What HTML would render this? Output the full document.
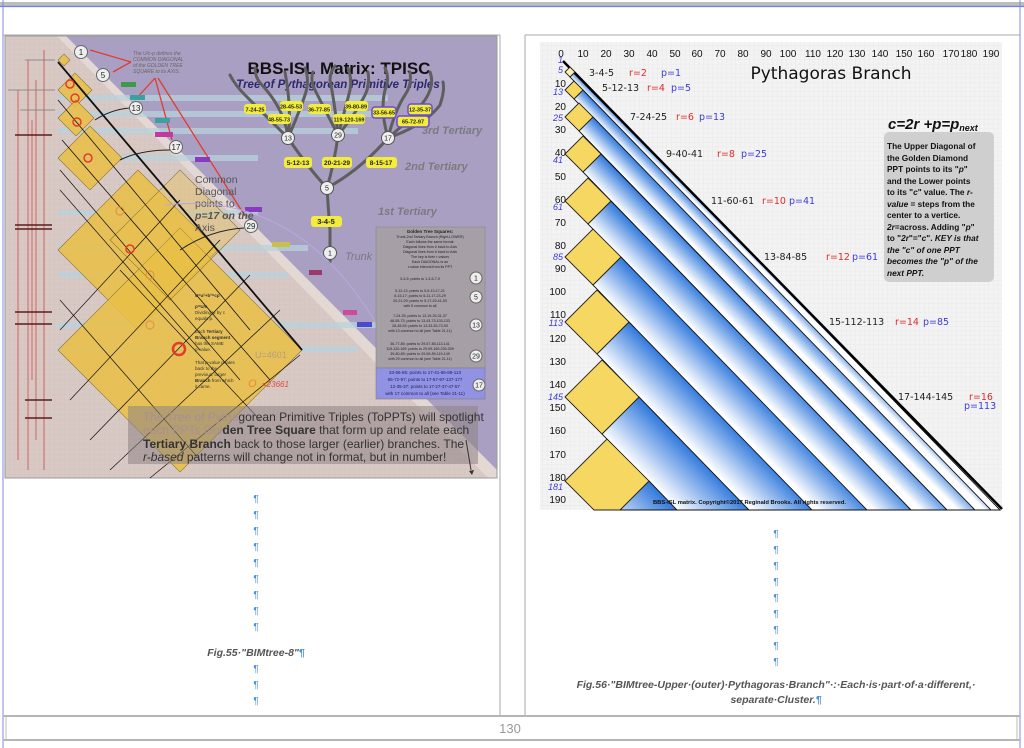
<!DOCTYPE html>
<html><head><meta charset="utf-8"><style>
html,body{margin:0;padding:0;background:#fff;}
body{width:1024px;height:748px;overflow:hidden;position:relative;font-family:"Liberation Sans",sans-serif;}
svg{position:absolute;left:0;top:0;}
</style></head><body>
<svg width="1024" height="748" viewBox="0 0 1024 748" xmlns="http://www.w3.org/2000/svg" font-family="Liberation Sans, sans-serif">
<defs>
<pattern id="grid" width="4.6" height="4.6" patternUnits="userSpaceOnUse">
<path d="M4.6 0V4.6H0" fill="none" stroke="#e2e2e2" stroke-width="0.5"/></pattern>
<pattern id="lgrid" width="5" height="5" patternUnits="userSpaceOnUse">
<path d="M5 0V5H0" fill="none" stroke="#c9b9b6" stroke-width="0.4"/></pattern>
</defs>
<!-- page frame -->
<rect x="0" y="2" width="1024" height="4" fill="#bdbdbd"/>
<line x1="0" y1="6.5" x2="1024" y2="6.5" stroke="#6f7fe0" stroke-width="1.2"/>
<line x1="3" y1="0" x2="3" y2="748" stroke="#7d8be6" stroke-width="1"/>
<line x1="1020" y1="0" x2="1020" y2="748" stroke="#7d8be6" stroke-width="1"/>
<line x1="3" y1="35" x2="500" y2="35" stroke="#aaa" stroke-width="1"/>
<line x1="525" y1="35" x2="1020" y2="35" stroke="#aaa" stroke-width="1"/>
<line x1="500" y1="35" x2="500" y2="716" stroke="#aaa"/>
<line x1="525" y1="35" x2="525" y2="716" stroke="#aaa"/>
<rect x="3" y="715" width="1017" height="2" fill="#b5b5b5"/>
<rect x="3" y="739" width="1017" height="2" fill="#b5b5b5"/>
<line x1="6" y1="717" x2="6" y2="739" stroke="#bbb"/>
<line x1="1017" y1="717" x2="1017" y2="739" stroke="#bbb"/>
<text x="510" y="733" font-size="13" fill="#999" text-anchor="middle">130</text>

<!-- ===== LEFT PANEL ===== -->
<rect x="5" y="36" width="492" height="442" fill="#d9c9c5"/>
<rect x="5" y="36" width="492" height="442" fill="url(#lgrid)"/>
<polygon points="57,36 497,36 497,478 488,478" fill="#e4d8d4"/>
<polygon points="66,36 497,36 497,470" fill="#a99fc2"/>
<rect x="5" y="36" width="492" height="442" fill="none" stroke="#999"/>
<!-- left strip -->
<g stroke="#d24a4a" stroke-width="0.8">
<line x1="18" y1="90" x2="18" y2="460"/><line x1="28" y1="60" x2="28" y2="470"/><line x1="36" y1="80" x2="36" y2="440"/><line x1="44" y1="50" x2="44" y2="470"/><line x1="32" y1="120" x2="32" y2="380"/>
</g>
<g stroke="#5a1d1d" stroke-width="1.5">
<line x1="15" y1="135" x2="52" y2="135"/><line x1="15" y1="225" x2="52" y2="225"/><line x1="15" y1="229" x2="52" y2="229"/><line x1="15" y1="312" x2="52" y2="312"/><line x1="15" y1="324" x2="52" y2="324"/><line x1="25" y1="400" x2="52" y2="400"/><line x1="25" y1="418" x2="52" y2="418"/>
</g>
<g stroke="#777" stroke-width="0.8"><line x1="8" y1="90" x2="55" y2="90"/><line x1="20" y1="110" x2="55" y2="110"/><line x1="25" y1="60" x2="55" y2="60"/></g>
<!-- stripes -->
<g fill="#b8d3dc" opacity="0.75">
<rect x="58" y="95" width="330" height="6"/><rect x="58" y="111" width="320" height="6"/><rect x="58" y="128" width="300" height="6"/>
<rect x="58" y="155" width="200" height="6"/><rect x="58" y="245" width="250" height="6"/><rect x="58" y="272" width="230" height="6"/>
<rect x="58" y="322" width="340" height="6"/><rect x="58" y="346" width="300" height="6"/><rect x="58" y="210" width="200" height="5"/>
</g>
<!-- diamonds -->
<g fill="#e8bf48" fill-opacity="0.88" stroke="#8a7430" stroke-width="0.6">
<polygon points="58,60 64,54 70,60 64,66"/>
<polygon points="58,90 75,73 92,90 75,107"/>
<polygon points="58,118 76,100 94,118 76,136"/>
<polygon points="58,158 90,126 122,158 90,190"/>
<polygon points="58,250 138,170 218,250 138,330"/>
<polygon points="58,350 180,228 302,350 180,472"/>
<polygon points="110,240 180,170 240,230 170,300" fill-opacity="0.35"/>
</g>
<!-- black diagonals -->
<g stroke="#111" fill="none">
<line x1="58" y1="62" x2="302" y2="350" stroke-width="1.8"/>
<line x1="58" y1="100" x2="250" y2="330" stroke-width="0.8"/>
<line x1="62" y1="140" x2="270" y2="380" stroke-width="0.8"/>
<line x1="60" y1="170" x2="240" y2="380" stroke-width="0.7"/>
<line x1="60" y1="190" x2="200" y2="350" stroke-width="0.7"/>
<line x1="120" y1="270" x2="260" y2="420" stroke-width="0.7"/>
<line x1="60" y1="300" x2="200" y2="460" stroke-width="0.7"/>
<line x1="180" y1="200" x2="60" y2="330" stroke-width="0.7"/>
<line x1="220" y1="240" x2="70" y2="400" stroke-width="0.7"/>
<line x1="250" y1="275" x2="90" y2="440" stroke-width="0.7"/>
<line x1="280" y1="310" x2="110" y2="470" stroke-width="0.7"/>
<line x1="300" y1="355" x2="150" y2="478" stroke-width="0.7"/>
</g>
<!-- red circles -->
<g fill="none" stroke="#e23b2e" stroke-width="1.5">
<circle cx="70" cy="84" r="4"/><circle cx="75" cy="98" r="4"/><circle cx="77" cy="122" r="4"/><circle cx="88" cy="158" r="4"/><circle cx="130" cy="249" r="4"/><circle cx="179" cy="349" r="6" stroke-width="2.5"/>
</g>
<g fill="none" stroke="#e58a3a" stroke-width="1.2" opacity="0.8"><circle cx="120" cy="211" r="4"/><circle cx="150" cy="275" r="4"/><circle cx="150" cy="325" r="4"/></g>
<!-- red arrows -->
<g stroke="#e23b2e" stroke-width="1.3" fill="none">
<line x1="131" y1="62" x2="90" y2="50"/><line x1="131" y1="62" x2="113" y2="72"/>
<line x1="155" y1="78" x2="172" y2="140"/><line x1="158" y1="78" x2="245" y2="216"/><line x1="155" y1="78" x2="135" y2="100"/>
</g>
<text x="133" y="55" font-size="5" fill="#666" font-style="italic">The U/c-p defines the</text>
<text x="133" y="61" font-size="5" fill="#666" font-style="italic">COMMON DIAGONAL</text>
<text x="133" y="67" font-size="5" fill="#666" font-style="italic">of the GOLDEN TREE</text>
<text x="133" y="73" font-size="5" fill="#666" font-style="italic">SQUARE to its AXIS.</text>
<!-- number circles -->
<g font-size="8" text-anchor="middle" fill="#222">
<circle cx="81" cy="52" r="6.5" fill="#eee" stroke="#666"/><text x="81" y="55">1</text>
<circle cx="103" cy="75" r="6.5" fill="#eee" stroke="#666"/><text x="103" y="78">5</text>
<circle cx="136" cy="108" r="6.5" fill="#eee" stroke="#666"/><text x="136" y="111">13</text>
<circle cx="176" cy="147" r="6.5" fill="#eee" stroke="#666"/><text x="176" y="150">17</text>
<circle cx="251" cy="226" r="6.5" fill="#eee" stroke="#666"/><text x="251" y="229">29</text>
</g>
<g stroke="#222" fill="none" stroke-width="1"><path d="M129 108 Q110 110 95 120"/><path d="M170 150 Q140 150 120 160"/><path d="M244 228 Q210 230 180 250"/></g>
<!-- small colored tags -->
<g><rect x="121" y="82" width="15" height="5" fill="#3c9a4a"/><rect x="130" y="95" width="15" height="5" fill="#3aa0a0"/><rect x="155" y="118" width="15" height="5" fill="#3aa0a0"/><rect x="155" y="132" width="18" height="5" fill="#c03aa0"/><rect x="195" y="157" width="15" height="5" fill="#8a3ac0"/><rect x="245" y="207" width="17" height="5" fill="#8a3ac0"/><rect x="272" y="242" width="18" height="5" fill="#c9c04a"/><rect x="309" y="270" width="13" height="5" fill="#9a3a6a"/><rect x="343" y="310" width="14" height="5" fill="#d04a9a"/><rect x="357" y="322" width="15" height="5" fill="#4a4ad0"/><rect x="378" y="347" width="15" height="5" fill="#e5e04a"/></g>
<!-- title -->
<text x="339" y="74" font-size="17" font-weight="bold" text-anchor="middle" fill="#111">BBS-ISL Matrix: TPISC</text>
<text x="338" y="88" font-size="11.5" font-weight="bold" font-style="italic" text-anchor="middle" fill="#2a2a6a">Tree of Pythagorean Primitive Triples</text>
<!-- tree -->
<g stroke="#5e5e5e" stroke-width="3" fill="none" stroke-linecap="round">
<path d="M330 262 L330 230 Q328 205 327 188"/>
<path d="M327 188 Q310 170 288 138"/><path d="M327 188 Q335 160 338 135"/><path d="M327 188 Q360 170 388 138"/>
<path d="M288 138 Q270 120 245 95 Q235 85 230 75"/><path d="M288 138 Q285 110 262 85 Q255 78 255 68"/><path d="M288 138 Q292 110 285 72"/><path d="M288 138 Q300 110 305 95 Q310 80 305 68"/>
<path d="M338 135 Q325 110 315 90 Q310 80 313 72"/><path d="M338 135 Q335 105 330 80 Q330 72 335 66"/><path d="M338 135 Q345 110 350 90 Q352 78 348 68"/><path d="M338 135 Q355 115 365 95 Q370 85 368 72"/>
<path d="M388 138 Q380 110 385 90 Q390 78 385 68"/><path d="M388 138 Q395 110 405 95 Q412 85 410 72"/><path d="M388 138 Q410 120 425 100 Q435 85 430 72"/><path d="M388 138 Q425 125 440 105 Q445 90 443 82"/>
</g>
<g font-size="7" text-anchor="middle" fill="#222">
<circle cx="288" cy="138" r="6.5" fill="#eee" stroke="#555"/><text x="288" y="140.5">13</text>
<circle cx="338" cy="135" r="6.5" fill="#eee" stroke="#555"/><text x="338" y="137.5">29</text>
<circle cx="388" cy="138" r="6.5" fill="#eee" stroke="#555"/><text x="388" y="140.5">17</text>
<circle cx="327" cy="188" r="6.5" fill="#eee" stroke="#555"/><text x="327" y="190.5">5</text>
<circle cx="330" cy="253" r="6.5" fill="#eee" stroke="#555"/><text x="330" y="255.5">1</text>
</g>
<g font-size="6.5" font-weight="bold" text-anchor="middle" fill="#222">
<rect x="244" y="104" width="22" height="10" rx="3" fill="#f2ec3c"/><text x="255" y="111.5" font-size="5.5">7-24-25</text>
<rect x="280" y="101" width="23" height="10" rx="3" fill="#f2ec3c"/><text x="291" y="108.5" font-size="5.5">28-45-53</text>
<rect x="268" y="114" width="23" height="10" rx="3" fill="#f2ec3c"/><text x="279" y="121.5" font-size="5.5">48-55-73</text>
<rect x="308" y="104" width="23" height="10" rx="3" fill="#f2ec3c"/><text x="319" y="111.5" font-size="5.5">36-77-85</text>
<rect x="345" y="101" width="23" height="10" rx="3" fill="#f2ec3c"/><text x="356" y="108.5" font-size="5.5">39-80-89</text>
<rect x="333" y="114" width="32" height="10" rx="3" fill="#f2ec3c"/><text x="349" y="121.5" font-size="5.5">119-120-169</text>
<rect x="372" y="107" width="24" height="11" rx="3" fill="#f2ec3c" stroke="#6a4ad8" stroke-width="1.5"/><text x="384" y="114.5" font-size="5.5">33-56-65</text>
<rect x="408" y="104" width="24" height="11" rx="3" fill="#f2ec3c" stroke="#6a4ad8" stroke-width="1.5"/><text x="420" y="111.5" font-size="5.5">12-35-37</text>
<rect x="397" y="116" width="32" height="11" rx="3" fill="#f2ec3c" stroke="#6a4ad8" stroke-width="1.5"/><text x="413" y="123.5" font-size="5.5">65-72-97</text>
<rect x="284" y="157" width="28" height="11" rx="3" fill="#f2ec3c"/><text x="298" y="165">5-12-13</text>
<rect x="322" y="157" width="30" height="11" rx="3" fill="#f2ec3c"/><text x="337" y="165">20-21-29</text>
<rect x="366" y="157" width="31" height="11" rx="3" fill="#f2ec3c"/><text x="381" y="165">8-15-17</text>
<rect x="311" y="216" width="31" height="11" rx="3" fill="#f2ec3c"/><text x="326" y="224" font-size="7.5">3-4-5</text>
</g>
<g font-size="11" font-style="italic" font-weight="bold" fill="#777" opacity="0.9">
<text x="422" y="134">3rd Tertiary</text><text x="405" y="170">2nd Tertiary</text><text x="378" y="215">1st Tertiary</text><text x="345" y="260" font-weight="normal">Trunk</text>
</g>
<text font-size="10.5" fill="#555"><tspan x="195" y="183">Common</tspan><tspan x="195" y="195">Diagonal</tspan><tspan x="195" y="207">points to</tspan><tspan x="195" y="219" font-style="italic" font-weight="bold">p=17 on the</tspan><tspan x="195" y="231">Axis</tspan></text>
<path d="M165 205 Q300 190 380 330" stroke="#b7a8e0" fill="none" stroke-width="1"/>
<g font-size="4.5" fill="#333">
<text x="195" y="297" font-weight="bold">U=a²+b²=cp</text><text x="195" y="308" font-weight="bold">p=U/c</text><text x="195" y="314">Dividing U by c</text><text x="195" y="320">equals p.</text>
<text x="195" y="333">Each <tspan font-weight="bold">Tertiary</tspan></text><text x="195" y="339" font-weight="bold">Branch segment</text><text x="195" y="345">has the SAME</text><text x="195" y="351">p-value.</text>
<text x="195" y="364">That p-value relates</text><text x="195" y="370">back to the</text><text x="195" y="376">previous, larger</text><text x="195" y="382"><tspan font-weight="bold">Branch</tspan> from which</text><text x="195" y="388">it came.</text>
</g>
<text x="255" y="358" font-size="9" fill="#b0a080">U=4601</text>
<text x="248" y="387" font-size="11" fill="#f08a30" font-style="italic">O</text>
<text x="262" y="387" font-size="8" fill="#e04a3a" font-style="italic">=23661</text>
<!-- golden tree squares box -->
<rect x="376" y="227" width="109" height="141" fill="#a69fa6" stroke="#888" stroke-width="0.6"/>
<g font-size="3.6" fill="#222" text-anchor="middle">
<text x="430" y="233" font-size="4.5" font-weight="bold">Golden Tree Squares:</text>
<text x="430" y="238">Trunk-2nd Tertiary Branch (Right,LOWER)</text>
<text x="430" y="243">Each follows the same format</text>
<text x="430" y="248">Diagonal lines from # back to Axis</text>
<text x="430" y="253">Diagonal lines from # back to Axis</text>
<text x="430" y="258">The key is their r-values</text>
<text x="430" y="263">Each DIAGONAL is an</text>
<text x="430" y="268">r-value interval from its PPT</text>
<text x="420" y="280">3-4-5: points to 1-3-5-7-9</text>
<text x="420" y="292">5-12-13: points to 5-9-13-17-21</text>
<text x="420" y="297">8-15-17: points to 5-11-17-23-29</text>
<text x="420" y="302">20-21-29: points to 5-17-29-41-53</text>
<text x="420" y="307">with 5 common to all</text>
<text x="420" y="317">7-24-25: points to 13-19-25-31-37</text>
<text x="420" y="322">48-55-73: points to 13-43-73-103-133</text>
<text x="420" y="327">28-45-53: points to 13-33-53-73-93</text>
<text x="420" y="332">with 13 common to all (see Table 21-11)</text>
<text x="420" y="345">36-77-85: points to 29-57-85-113-141</text>
<text x="420" y="350">119-120-169: points to 29-99-169-239-309</text>
<text x="420" y="355">39-80-89: points to 29-59-89-119-149</text>
<text x="420" y="360">with 29 common to all (see Table 21-11)</text>
</g>
<rect x="376" y="368" width="109" height="31" fill="#9292e4" stroke="#777" stroke-width="0.5"/>
<g font-size="4.5" fill="#1a1a5a" text-anchor="middle">
<text x="425" y="374">33-56-65: points to 17-41-65-89-113</text><text x="425" y="381">65-72-97: points to 17-57-97-137-177</text><text x="425" y="388">12-35-37: points to 17-27-37-47-57</text><text x="425" y="395">with 17 common to all (see Table 21-11)</text>
</g>
<g font-size="7" text-anchor="middle" fill="#222">
<circle cx="476" cy="278" r="6" fill="#eee" stroke="#666"/><text x="476" y="280.5">1</text>
<circle cx="476" cy="297" r="6" fill="#eee" stroke="#666"/><text x="476" y="299.5">5</text>
<circle cx="476" cy="325" r="6" fill="#eee" stroke="#666"/><text x="476" y="327.5">13</text>
<circle cx="476" cy="356" r="6" fill="#eee" stroke="#666"/><text x="476" y="358.5">29</text>
<circle cx="479" cy="385" r="6" fill="#eee" stroke="#666"/><text x="479" y="387.5">17</text>
</g>
<!-- bottom text box -->
<rect x="128" y="406" width="350" height="58" fill="#8c8283" fill-opacity="0.55"/>
<g font-size="12" fill="#333">
<text x="143" y="421"><tspan fill="#a89090">The Tree of Pytha</tspan>gorean Primitive Triples (ToPPTs) will spotlight</text>
<text x="143" y="434"><tspan fill="#a89090">each PPTs Gol</tspan><tspan font-weight="bold">den Tree Square</tspan> that form up and relate each</text>
<text x="143" y="448"><tspan font-weight="bold">Tertiary Branch</tspan> back to those larger (earlier) branches. The</text>
<text x="143" y="461"><tspan font-style="italic">r-based</tspan> patterns will change not in format, but in number!</text>
</g>
<path d="M466 440 L471 470" stroke="#333"/><polygon points="469,471 474,470 472,475" fill="#333"/>
<!-- left captions -->
<g font-size="10" fill="#4a90e0" text-anchor="middle">
<text x="256" y="502">¶</text><text x="256" y="518">¶</text><text x="256" y="534">¶</text><text x="256" y="550">¶</text><text x="256" y="566">¶</text><text x="256" y="582">¶</text><text x="256" y="598">¶</text><text x="256" y="614">¶</text><text x="256" y="630">¶</text><text x="256" y="672">¶</text><text x="256" y="688">¶</text><text x="256" y="704">¶</text>
</g>
<text x="256" y="656" font-size="10.5" font-style="italic" font-weight="bold" fill="#555" text-anchor="middle">Fig.55·"BIMtree-8"<tspan fill="#4a90e0">¶</tspan></text>

<!-- ===== RIGHT PANEL ===== -->
<rect x="540" y="42" width="462" height="468" fill="#f3f3f3"/>
<rect x="540" y="42" width="462" height="468" fill="url(#grid)"/>
<defs>
<linearGradient id="b1" gradientUnits="userSpaceOnUse" x1="570" y1="77" x2="575" y2="72"><stop offset="0" stop-color="#fff"/><stop offset="1" stop-color="#2f78dc"/></linearGradient>
<linearGradient id="b2" gradientUnits="userSpaceOnUse" x1="574" y1="99" x2="583" y2="90"><stop offset="0" stop-color="#fff"/><stop offset="1" stop-color="#2f78dc"/></linearGradient>
<linearGradient id="b3" gradientUnits="userSpaceOnUse" x1="579" y1="131" x2="593" y2="117"><stop offset="0" stop-color="#fff"/><stop offset="1" stop-color="#2f78dc"/></linearGradient>
<linearGradient id="b4" gradientUnits="userSpaceOnUse" x1="583" y1="172" x2="601" y2="154"><stop offset="0" stop-color="#fff"/><stop offset="1" stop-color="#2f78dc"/></linearGradient>
<linearGradient id="b5" gradientUnits="userSpaceOnUse" x1="588" y1="224" x2="611" y2="201"><stop offset="0" stop-color="#fff"/><stop offset="1" stop-color="#2f78dc"/></linearGradient>
<linearGradient id="b6" gradientUnits="userSpaceOnUse" x1="593" y1="285" x2="621" y2="257"><stop offset="0" stop-color="#fff"/><stop offset="1" stop-color="#2f78dc"/></linearGradient>
<linearGradient id="b7" gradientUnits="userSpaceOnUse" x1="597" y1="354" x2="629" y2="322"><stop offset="0" stop-color="#fff"/><stop offset="1" stop-color="#2f78dc"/></linearGradient>
<linearGradient id="b8" gradientUnits="userSpaceOnUse" x1="602" y1="434" x2="639" y2="397"><stop offset="0" stop-color="#fff"/><stop offset="1" stop-color="#2f78dc"/></linearGradient>
<linearGradient id="b9" gradientUnits="userSpaceOnUse" x1="607" y1="523" x2="649" y2="481"><stop offset="0" stop-color="#fff"/><stop offset="1" stop-color="#2f78dc"/></linearGradient>
</defs>
<g stroke="#111" stroke-width="0.9">
<polygon points="575,72 1000,510 990,510 570,77" fill="url(#b1)"/>
<polygon points="583,90 991,510 973,510 574,99" fill="url(#b2)"/>
<polygon points="593,117 975,510 947,510 579,131" fill="url(#b3)"/>
<polygon points="601,154 947,510 911,510 583,172" fill="url(#b4)"/>
<polygon points="611,201 911,510 866,510 588,224" fill="url(#b5)"/>
<polygon points="621,257 867,510 811,510 593,285" fill="url(#b6)"/>
<polygon points="629,322 812,510 748,510 597,354" fill="url(#b7)"/>
<polygon points="639,397 749,510 676,510 602,434" fill="url(#b8)"/>
<polygon points="649,481 677,510 620,510" fill="url(#b9)"/>
</g>
<line x1="563" y1="61" x2="1002" y2="509" stroke="#000" stroke-width="2.5"/>
<g fill="#f6d762" stroke="#222" stroke-width="0.9">
<polygon points="565,72 570,67 575,72 570,77" fill="#fbf0b0"/>
<polygon points="565,90 574,81 583,90 574,99"/>
<polygon points="565,117 579,103 593,117 579,131"/>
<polygon points="565,154 583,136 601,154 583,172"/>
<polygon points="565,201 588,178 611,201 588,224"/>
<polygon points="565,257 593,229 621,257 593,285"/>
<polygon points="565,322 597,290 629,322 597,354"/>
<polygon points="565,397 602,360 639,397 602,434"/>
<polygon points="565,481 607,439 649,481 620,510 594,510"/>
</g>
<!-- top axis -->
<g font-size="10" fill="#111" text-anchor="middle">
<text x="561" y="57">0</text><text x="583" y="57">10</text><text x="606" y="57">20</text><text x="629" y="57">30</text><text x="652" y="57">40</text><text x="675" y="57">50</text><text x="697" y="57">60</text><text x="720" y="57">70</text><text x="743" y="57">80</text><text x="766" y="57">90</text><text x="788" y="57">100</text><text x="813" y="57">110</text><text x="835" y="57">120</text><text x="857" y="57">130</text><text x="880" y="57">140</text><text x="904" y="57">150</text><text x="926" y="57">160</text><text x="951" y="57">170</text><text x="969" y="57">180</text><text x="991" y="57">190</text>
</g>
<g font-size="10" fill="#111" text-anchor="end">
<text x="566" y="87">10</text><text x="566" y="110">20</text><text x="566" y="133">30</text><text x="566" y="156">40</text><text x="566" y="180">50</text><text x="566" y="203">60</text><text x="566" y="226">70</text><text x="566" y="249">80</text><text x="566" y="272">90</text><text x="566" y="295">100</text><text x="566" y="318">110</text><text x="566" y="342">120</text><text x="566" y="365">130</text><text x="566" y="388">140</text><text x="566" y="411">150</text><text x="566" y="434">160</text><text x="566" y="458">170</text><text x="566" y="481">180</text><text x="566" y="503">190</text>
</g>
<g font-size="9" fill="#3b3bd8" font-style="italic" text-anchor="end">
<text x="563" y="63">1</text><text x="563" y="73">5</text><text x="563" y="95">13</text><text x="563" y="121">25</text><text x="563" y="163">41</text><text x="563" y="210">61</text><text x="563" y="260">85</text><text x="563" y="326">113</text><text x="563" y="400">145</text><text x="563" y="490">181</text>
</g>
<g font-size="9.5" font-family="DejaVu Sans, sans-serif">
<text x="589" y="76" fill="#222">3-4-5</text><text x="629" y="76" fill="#e02a2a">r=2</text><text x="661" y="76" fill="#3b3bd8">p=1</text>
<text x="602" y="91" fill="#222">5-12-13</text><text x="647" y="91" fill="#e02a2a">r=4</text><text x="671" y="91" fill="#3b3bd8">p=5</text>
<text x="630" y="120" fill="#222">7-24-25</text><text x="676" y="120" fill="#e02a2a">r=6</text><text x="699" y="120" fill="#3b3bd8">p=13</text>
<text x="666" y="157" fill="#222">9-40-41</text><text x="717" y="157" fill="#e02a2a">r=8</text><text x="741" y="157" fill="#3b3bd8">p=25</text>
<text x="711" y="204" fill="#222">11-60-61</text><text x="762" y="204" fill="#e02a2a">r=10</text><text x="789" y="204" fill="#3b3bd8">p=41</text>
<text x="764" y="260" fill="#222">13-84-85</text><text x="826" y="260" fill="#e02a2a">r=12</text><text x="852" y="260" fill="#3b3bd8">p=61</text>
<text x="829" y="325" fill="#222">15-112-113</text><text x="895" y="325" fill="#e02a2a">r=14</text><text x="923" y="325" fill="#3b3bd8">p=85</text>
<text x="898" y="400" fill="#222">17-144-145</text><text x="969" y="400" fill="#e02a2a">r=16</text><text x="964" y="409" fill="#3b3bd8">p=113</text>
</g>
<text x="831" y="79" font-size="17" fill="#111" text-anchor="middle" font-family="DejaVu Sans, sans-serif">Pythagoras Branch</text>
<text x="888" y="129" font-size="15" font-weight="bold" font-style="italic" fill="#111">c=2r +p=p<tspan font-size="9" dy="2">next</tspan></text>
<rect x="884" y="132" width="110" height="150" rx="5" fill="#cfcfcf"/>
<g font-size="8.3" font-weight="bold" fill="#111">
<text x="887" y="149">The Upper Diagonal of</text>
<text x="887" y="161">the Golden Diamond</text>
<text x="887" y="172">PPT points to its "<tspan font-style="italic">p</tspan>"</text>
<text x="887" y="184">and the Lower points</text>
<text x="887" y="195">to its "<tspan font-style="italic">c</tspan>" value. The <tspan font-style="italic">r-</tspan></text>
<text x="887" y="207"><tspan font-style="italic">value</tspan> = steps from the</text>
<text x="887" y="218">center to a vertice.</text>
<text x="887" y="230"><tspan font-style="italic">2r</tspan>=across. Adding "<tspan font-style="italic">p</tspan>"</text>
<text x="887" y="241">to "<tspan font-style="italic">2r</tspan>"="<tspan font-style="italic">c</tspan>". <tspan font-style="italic">KEY is that</tspan></text>
<text x="887" y="253" font-style="italic">the "c" of one PPT</text>
<text x="887" y="264" font-style="italic">becomes the "p" of the</text>
<text x="887" y="276" font-style="italic">next PPT.</text>
</g>
<text x="653" y="504" font-size="5.8" font-weight="bold" fill="#111">BBS-ISL matrix. Copyright©2017 Reginald Brooks. All rights reserved.</text>
<!-- right captions -->
<g font-size="10" fill="#4a90e0" text-anchor="middle">
<text x="776" y="537">¶</text><text x="776" y="553">¶</text><text x="776" y="569">¶</text><text x="776" y="585">¶</text><text x="776" y="601">¶</text><text x="776" y="617">¶</text><text x="776" y="633">¶</text><text x="776" y="649">¶</text><text x="776" y="665">¶</text>
</g>
<text x="776" y="688" font-size="10.5" font-style="italic" font-weight="bold" fill="#555" text-anchor="middle">Fig.56·"BIMtree-Upper·(outer)·Pythagoras·Branch"·:·Each·is·part·of·a·different,·</text>
<text x="776" y="703" font-size="10.5" font-style="italic" font-weight="bold" fill="#555" text-anchor="middle">separate·Cluster.<tspan fill="#4a90e0">¶</tspan></text>
</svg>
</body></html>
